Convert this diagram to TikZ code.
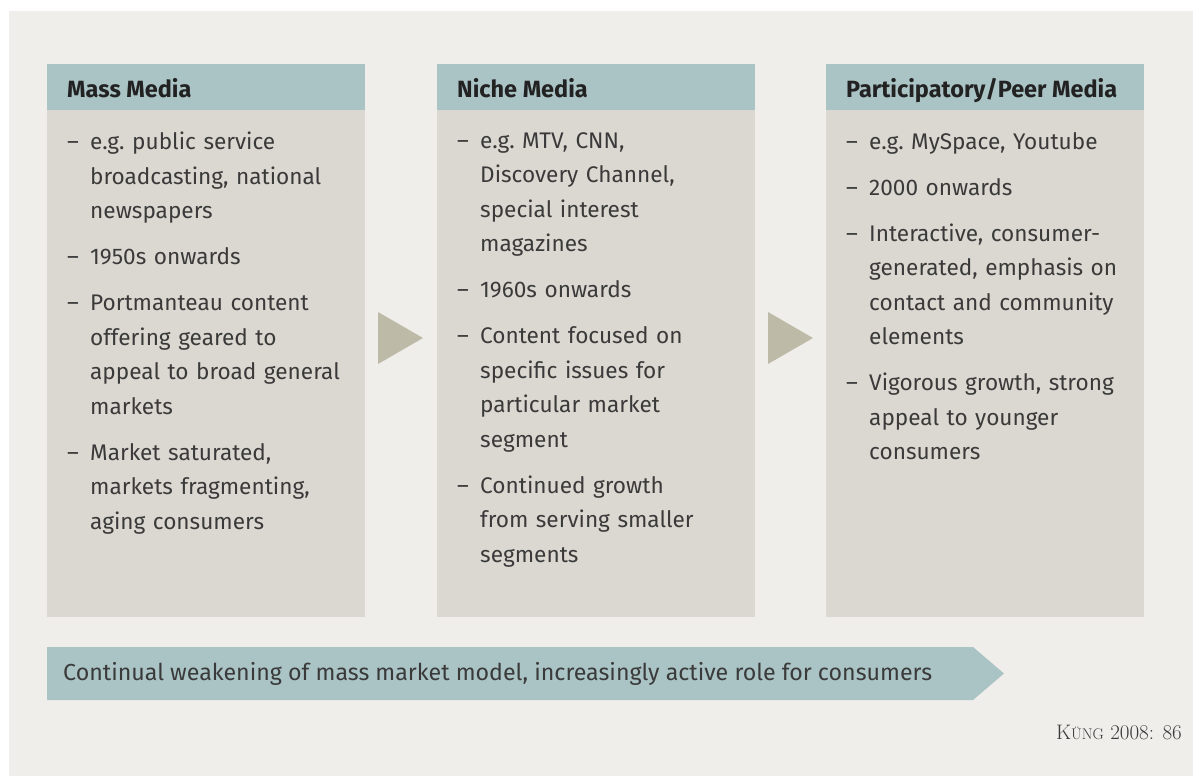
\documentclass[tikz,border=0pt]{standalone}
\usepackage{fontspec}
\setmainfont{Fira Sans}
\newfontfamily\capfont{Latin Modern Roman}
\definecolor{bgc}{HTML}{EFEEEA}
\definecolor{headc}{HTML}{AAC3C5}
\definecolor{bodyc}{HTML}{DBD8D1}
\definecolor{triac}{HTML}{BDBBA8}
\definecolor{txtc}{HTML}{3A3A3A}
\definecolor{headtxt}{HTML}{222222}
\newcommand{\bodyset}{\leftskip=23pt\relax\frenchspacing}
\newcommand{\mitem}[1]{\noindent\llap{\makebox[23pt][l]{–}}#1\par\vspace{11.5pt}}
\tikzset{
  headbox/.style={fill=headc, draw=none},
  bodybox/.style={fill=bodyc, draw=none},
  headtext/.style={anchor=base west, inner sep=0pt, text=headtxt, font=\fontsize{23.5}{26}\selectfont\bfseries},
  bodytext/.style={anchor=north west, inner sep=0pt, text=txtc, text width=295pt, align=left, font=\fontsize{22.6}{34.5}\selectfont},
  triangle/.style={fill=triac, draw=none},
}
\begin{document}
\begin{tikzpicture}[x=1pt,y=-1pt]
\useasboundingbox (0,0) rectangle (1193,776);
\fill[white] (0,0) rectangle (1193,776);
\fill[bgc] (9,11) rectangle (1193,776);
% boxes
\foreach \xa/\xb/\n in {47/365/a,437/755/b,826/1144/c}{
  \fill[headbox] (\xa,64) rectangle (\xb,110);
  \fill[bodybox] (\xa,110) rectangle (\xb,617);
  \coordinate (h\n) at (\xa+20,97.5);
  \coordinate (t\n) at (\xa+20,132);
}
\node[headtext] (ha1) at (ha) {Mass Media};
\node[headtext] (hb1) at (hb) {Niche Media};
\node[headtext] (hc1) at (hc) {Participatory/Peer Media};
\node[bodytext] (ta1) at (ta) {\bodyset
\mitem{e.g. public service\\ broadcasting, national\\ newspapers}%
\mitem{1950s onwards}%
\mitem{Portmanteau content\\ offering geared to\\ appeal to broad general\\ markets}%
\mitem{Market saturated,\\ markets fragmenting,\\ aging consumers}};
\node[bodytext] (tb1) at (tb) {\bodyset
\mitem{e.g. MTV, CNN,\\ Discovery Channel,\\ special interest\\ magazines}%
\mitem{1960s onwards}%
\mitem{Content focused on\\ specific issues for\\ particular market\\ segment}%
\mitem{Continued growth\\ from serving smaller\\ segments}};
\node[bodytext] (tc1) at (tc) {\bodyset
\mitem{e.g. MySpace, Youtube}%
\mitem{2000 onwards}%
\mitem{Interactive, consumer-\\ generated, emphasis on\\ contact and community\\ elements}%
\mitem{Vigorous growth, strong\\ appeal to younger\\ consumers}};
% triangles
\fill[triangle] (378,312) -- (423,338) -- (378,364) -- cycle;
\fill[triangle] (768,312) -- (813,338) -- (768,364) -- cycle;
% bottom arrow
\fill[headbox] (47,647) -- (973,647) -- (1004,673.5) -- (973,700) -- (47,700) -- cycle;
\node[anchor=base west, inner sep=0pt, text=txtc, font=\fontsize{23.2}{26}\selectfont] (bt) at (63,680) {Continual weakening of mass market model, increasingly active role for consumers};
\node[anchor=base east, inner sep=0pt, text=txtc, font=\capfont\fontsize{21}{24}\selectfont] (cap) at (1182,739) {K{\fontsize{15.5}{18}\selectfont ÜNG} 2008: 86};
\end{tikzpicture}
\end{document}
